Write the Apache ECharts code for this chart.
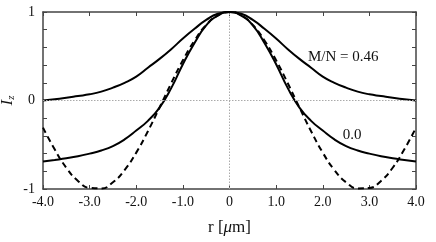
<!DOCTYPE html>
<html><head><meta charset="utf-8">
<script src="https://cdn.jsdelivr.net/npm/echarts@6/dist/echarts.min.js"></script>
<style>html,body{margin:0;padding:0;background:#fff}#c{width:436px;height:242px}</style>
</head><body><div id="c"></div>
<script>
// radial positions r [um]
const rValues = [-4.0,-3.75,-3.5,-3.25,-3.0,-2.75,-2.5,-2.25,-2.0,-1.75,-1.5,-1.25,-1.0,-0.75,-0.5,-0.25,0,
  0.25,0.5,0.75,1.0,1.25,1.5,1.75,2.0,2.25,2.5,2.75,3.0,3.25,3.5,3.75,4.0];
// M/N = 0.46 curve
const curveMN046 = [0.0,0.015,0.03,0.05,0.07,0.10,0.145,0.20,0.27,0.37,0.47,0.58,0.70,0.81,0.91,0.98,1.0,
  0.98,0.91,0.81,0.70,0.58,0.47,0.37,0.27,0.20,0.145,0.10,0.07,0.05,0.03,0.015,0.0];
// M/N = 0.0 curve
const curveMN00 = [-0.69,-0.672,-0.653,-0.63,-0.60,-0.565,-0.515,-0.44,-0.34,-0.23,-0.08,0.14,0.41,0.65,0.85,0.96,1.0,
  0.96,0.85,0.65,0.41,0.14,-0.08,-0.23,-0.34,-0.44,-0.515,-0.565,-0.60,-0.63,-0.653,-0.672,-0.69];
// dashed reference curve
const curveDashed = [-0.307,-0.552,-0.760,-0.909,-0.988,-0.993,-0.924,-0.786,-0.589,-0.347,-0.079,0.195,0.454,0.678,0.853,0.962,1.0,
  0.962,0.853,0.678,0.454,0.195,-0.079,-0.347,-0.589,-0.786,-0.924,-0.993,-0.988,-0.909,-0.760,-0.552,-0.307];
const xTickLabels = {"-4":"-4.0","-3":"-3.0","-2":"-2.0","-1":"-1.0","0":"0","1":"1.0","2":"2.0","3":"3.0","4":"4.0"};
const yTickLabels = {"-1":"-1","0":"0","1":"1"};
const labelMN046 = {text:"M/N = 0.46", r:2.44, v:0.49};
const labelMN00 = {text:"0.0", r:2.63, v:-0.39};

const pairs = arr => rValues.map((r,i)=>[r,arr[i]]);
const FONT = "Liberation Serif";
const frame = '#444';
const chart = echarts.init(document.getElementById('c'), null, {renderer:'canvas'});
const xBase = {type:'value', min:-4, max:4, interval:1,
  axisLine:{show:true,onZero:false,lineStyle:{color:frame,width:1.5}},
  axisTick:{show:true,inside:true,length:4,lineStyle:{color:frame,width:1}},
  splitLine:{show:false}};
const yBase = {type:'value', min:-1, max:1, interval:0.2,
  axisLine:{show:true,onZero:false,lineStyle:{color:frame,width:1.5}},
  axisTick:{show:true,inside:true,length:4,lineStyle:{color:frame,width:1}},
  splitLine:{show:false}};
const textMark = (lab) => ({symbol:'circle', symbolSize:1, itemStyle:{color:'rgba(0,0,0,0)'},
  label:{show:true, position:'inside', formatter:lab.text, fontFamily:FONT, fontSize:15, color:'#111'},
  data:[{coord:[lab.r, lab.v]}]});
chart.setOption({
  animation:false,
  grid:{left:43,right:20,top:12,bottom:53,outerBoundsMode:'none',containLabel:false},
  xAxis:[
    Object.assign({}, xBase, {position:'bottom',
      name:'r [{mu|μ}m]', nameLocation:'middle', nameGap:30,
      nameTextStyle:{fontFamily:FONT,fontSize:17,color:'#111',
        rich:{mu:{fontFamily:FONT,fontStyle:'italic',fontSize:17,color:'#111'}}},
      axisLabel:{margin:6,fontFamily:FONT,fontSize:14,color:'#111',
        formatter:v=>{const k=String(Math.round(v));return xTickLabels[k]!==undefined?xTickLabels[k]:'';}}}),
    Object.assign({}, xBase, {position:'top', axisLabel:{show:false}})
  ],
  yAxis:[
    Object.assign({}, yBase, {position:'left',
      name:'{i|I}{s|z}', nameLocation:'middle', nameGap:26, nameRotate:90, nameMoveOverlap:false,
      nameTextStyle:{rich:{i:{fontFamily:FONT,fontStyle:'italic',fontSize:17,color:'#111'},
        s:{fontFamily:FONT,fontStyle:'italic',fontSize:11,color:'#111',verticalAlign:'bottom',padding:[8,0,0,0]}}},
      axisLabel:{margin:8,fontFamily:FONT,fontSize:14,color:'#111',
        formatter:v=>{const k=String(Math.round(v*10)/10);return yTickLabels[k]!==undefined?yTickLabels[k]:'';}}}),
    Object.assign({}, yBase, {position:'right', axisLabel:{show:false}})
  ],
  series:[
    {type:'line', data:pairs(curveDashed), smooth:true, symbol:'none',
      lineStyle:{color:'#000',width:2,type:[6,4]}, z:3,
      markLine:{silent:true,symbol:'none',label:{show:false},
        lineStyle:{color:'#aaa',width:1,type:[1.5,1.5]},
        data:[{xAxis:0},{yAxis:0}]}},
    {type:'line', data:pairs(curveMN00), smooth:true, symbol:'none',
      lineStyle:{color:'#000',width:2}, z:4, markPoint:textMark(labelMN00)},
    {type:'line', data:pairs(curveMN046), smooth:true, symbol:'none',
      lineStyle:{color:'#000',width:2}, z:4, markPoint:textMark(labelMN046)}
  ]
});
</script></body></html>
